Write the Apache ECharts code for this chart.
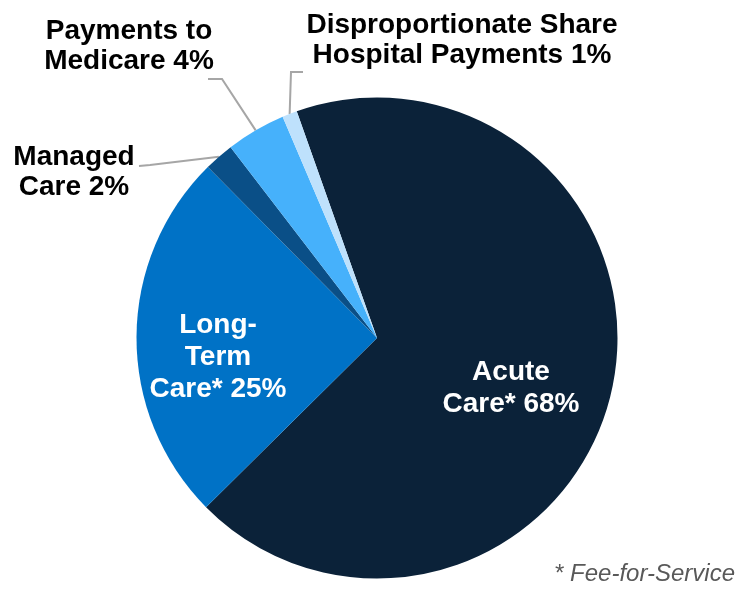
<!DOCTYPE html>
<html>
<head>
<meta charset="utf-8">
<script src="https://cdn.jsdelivr.net/npm/echarts@6/dist/echarts.min.js"></script>
<style>
html,body{margin:0;padding:0;background:#fff;}
#chart{width:755px;height:591px;}
</style>
</head>
<body>
<div id="chart"></div>
<script>
// Data
const categories = ['Acute\nCare*', 'Long-\nTerm\nCare*', 'Managed\nCare', 'Payments to\nMedicare', 'Disproportionate Share\nHospital Payments'];
const values = [68, 25, 2, 4, 1];
const colors = ['#0B2239', '#0072C6', '#0A4F87', '#46B1FB', '#BEE1FC'];
const footnote = '* Fee-for-Service';

// Label placement (layout only)
const labelPlacement = [
  { x: 511, y: 388, inside: true },
  { x: 218, y: 357, inside: true },
  { x: 74, y: 172, line: [[150, 165], [139, 166]] },
  { x: 129, y: 46, line: [[222, 79], [208, 79]] },
  { x: 462, y: 40, line: [[291, 72], [303, 72]] }
];

const chart = echarts.init(document.getElementById('chart'), null, { renderer: 'canvas' });

const data = categories.map((c, i) => {
  const item = { name: c, value: values[i], itemStyle: { color: colors[i] } };
  if (labelPlacement[i].inside) {
    item.label = { color: '#ffffff', lineHeight: 32 };
    item.labelLine = { show: false };
  }
  return item;
});

chart.setOption({
  animation: false,
  backgroundColor: '#ffffff',
  series: [{
    type: 'pie',
    center: [377, 338],
    radius: [0, 240.5],
    startAngle: 109.5,
    clockwise: true,
    avoidLabelOverlap: false,
    itemStyle: { borderWidth: 0 },
    label: {
      show: true,
      position: 'outside',
      formatter: p => p.name + ' ' + p.value + '%',
      fontFamily: 'Liberation Sans, Arial, sans-serif',
      fontWeight: 'bold',
      fontSize: 28,
      lineHeight: 30,
      color: '#000000',
      align: 'center'
    },
    labelLine: {
      show: true,
      length: 20,
      length2: 10,
      lineStyle: { color: '#A6A6A6', width: 2 }
    },
    labelLayout: function (p) {
      const L = labelPlacement[p.dataIndex];
      const out = { x: L.x, y: L.y, align: 'center', verticalAlign: 'middle' };
      if (!L.inside && p.labelLinePoints) {
        out.labelLinePoints = [p.labelLinePoints[0], L.line[0], L.line[1]];
      }
      return out;
    },
    data: data
  }],
  graphic: [{
    type: 'text',
    right: 20,
    top: 562,
    style: {
      text: footnote,
      fill: '#595959',
      font: 'italic 24px "Liberation Sans", Arial, sans-serif'
    }
  }]
});
</script>
</body>
</html>
